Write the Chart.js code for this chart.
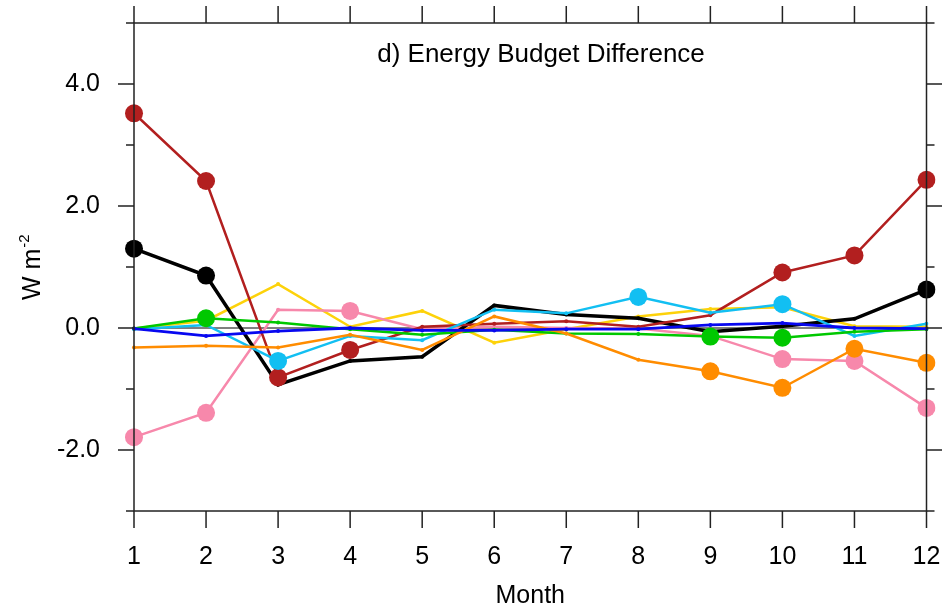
<!DOCTYPE html>
<html>
<head>
<meta charset="utf-8">
<script src="https://cdn.jsdelivr.net/npm/chart.js@4"></script>
<style>
  html, body { margin: 0; padding: 0; background: #fff; }
  #wrap { width: 942px; height: 606px; }
</style>
</head>
<body>
<div id="wrap"><canvas id="chart"></canvas></div>
<script>
// Données (W m-2)
const months = ['1', '2', '3', '4', '5', '6', '7', '8', '9', '10', '11', '12'];
const yTicks = [-2, 0, 2, 4];

const redVals    = [3.52, 2.41, -0.81, -0.36, 0.02, 0.07, 0.11, 0.02, 0.21, 0.91, 1.19, 2.43];
const blackVals  = [1.30, 0.86, -0.93, -0.54, -0.47, 0.37, 0.22, 0.16, -0.06, 0.03, 0.15, 0.63];
const cyanVals   = [-0.02, 0.05, -0.54, -0.13, -0.20, 0.30, 0.24, 0.51, 0.25, 0.39, -0.13, 0.07];
const yellowVals = [-0.01, 0.12, 0.72, 0.02, 0.28, -0.24, -0.02, 0.19, 0.31, 0.34, 0.03, 0.02];
const greenVals  = [-0.01, 0.16, 0.09, -0.02, -0.11, -0.03, -0.09, -0.10, -0.14, -0.16, -0.06, -0.02];
const blueVals   = [-0.01, -0.13, -0.05, 0.00, -0.04, -0.04, -0.02, -0.02, 0.05, 0.08, 0.00, -0.01];
const orangeVals = [-0.32, -0.29, -0.32, -0.11, -0.36, 0.19, -0.09, -0.52, -0.71, -0.98, -0.34, -0.57];
const pinkVals   = [-1.79, -1.39, 0.30, 0.28, -0.02, 0.02, 0.00, -0.01, -0.13, -0.51, -0.54, -1.31];

// Mois significatifs (gros points)
const redSig    = [1, 2, 3, 4, 10, 11, 12];
const blackSig  = [1, 2, 12];
const cyanSig   = [3, 8, 10];
const yellowSig = [];
const greenSig  = [2, 9, 10];
const blueSig   = [];
const orangeSig = [9, 10, 11, 12];
const pinkSig   = [1, 2, 4, 10, 11, 12];

const FONT = '"Liberation Sans", Arial, Helvetica, sans-serif';

function series(vals, sig, color, width) {
  return {
    data: vals,
    borderColor: color,
    backgroundColor: color,
    borderWidth: width,
    pointRadius: vals.map((v, i) => sig.includes(i + 1) ? 9 : 2),
    pointBorderWidth: 0,
    pointHoverRadius: 0,
    tension: 0
  };
}

// Cadre, graduations, titre
const frame = {
  id: 'frame',
  beforeDatasetsDraw(chart) {
    const {ctx, chartArea: a, scales: {y}} = chart;
    const y0 = y.getPixelForValue(0);
    ctx.save();
    ctx.strokeStyle = '#000';
    ctx.lineWidth = 1;
    ctx.beginPath();
    ctx.moveTo(a.left, y0);
    ctx.lineTo(a.right, y0);
    ctx.stroke();
    ctx.restore();
  },
  afterDraw(chart) {
    const {ctx, chartArea: a, scales: {x, y}} = chart;
    ctx.save();
    ctx.strokeStyle = '#222';
    ctx.lineWidth = 1.5;
    ctx.strokeRect(a.left, a.top, a.right - a.left, a.bottom - a.top);
    ctx.beginPath();
    months.forEach((m, i) => {
      const px = x.getPixelForValue(i);
      ctx.moveTo(px, a.bottom); ctx.lineTo(px, a.bottom + 17);
      ctx.moveTo(px, a.top); ctx.lineTo(px, a.top - 17);
    });
    for (let v = y.min; v <= y.max; v++) {
      const py = y.getPixelForValue(v);
      const len = yTicks.includes(v) ? 16 : 8;
      ctx.moveTo(a.left - len, py); ctx.lineTo(a.left, py);
      ctx.moveTo(a.right, py); ctx.lineTo(a.right + len, py);
    }
    ctx.stroke();

    // titre du panneau
    ctx.fillStyle = '#000';
    ctx.font = '26px ' + FONT;
    ctx.textAlign = 'center';
    ctx.textBaseline = 'middle';
    ctx.fillText('d) Energy Budget Difference', 541, 55);

    // titre de l'axe y : W m-2
    ctx.translate(40, 300);
    ctx.rotate(-Math.PI / 2);
    ctx.textAlign = 'left';
    ctx.textBaseline = 'alphabetic';
    ctx.font = '25px ' + FONT;
    ctx.fillText('W m', 0, 0);
    const w = ctx.measureText('W m').width;
    ctx.font = '15px ' + FONT;
    ctx.fillText('-2', w + 1, -11);
    ctx.restore();
  }
};

new Chart(document.getElementById('chart'), {
  type: 'line',
  data: {
    labels: months,
    datasets: [
      series(blueVals, blueSig, '#0808f0', 2.8),
      series(orangeVals, orangeSig, '#ff8c00', 2.5),
      series(greenVals, greenSig, '#00c800', 2.5),
      series(cyanVals, cyanSig, '#12bff2', 2.5),
      series(redVals, redSig, '#b21f1f', 2.5),
      series(blackVals, blackSig, '#000000', 3.5),
      series(pinkVals, pinkSig, '#f788ab', 2.5),
      series(yellowVals, yellowSig, '#fdd20a', 2.5)
    ]
  },
  options: {
    responsive: true,
    maintainAspectRatio: false,
    animation: false,
    layout: { padding: { top: 23, right: 15.5, left: 0, bottom: 0 } },
    plugins: {
      legend: { display: false },
      tooltip: { enabled: false },
      title: { display: false }
    },
    scales: {
      x: {
        type: 'category',
        offset: false,
        grid: { display: false, drawTicks: false },
        border: { display: false },
        ticks: {
          color: '#000',
          font: { family: FONT, size: 25 },
          padding: 31,
          maxRotation: 0,
          autoSkip: false
        },
        title: {
          display: true,
          text: 'Month',
          color: '#000',
          font: { family: FONT, size: 25 },
          padding: { top: 0, bottom: -5 }
        },
        afterFit(s) {
          s.height = 95;
          s.paddingLeft = 0; s.paddingRight = 0;
          s.paddingTop = 0; s.paddingBottom = 0;
        }
      },
      y: {
        min: -3,
        max: 5,
        grid: { display: false, drawTicks: false },
        border: { display: false },
        ticks: {
          stepSize: 1,
          color: '#000',
          font: { family: FONT, size: 25 },
          padding: 34,
          callback: v => yTicks.includes(v) ? v.toFixed(1) : ''
        },
        afterFit(s) {
          s.width = 134;
          s.paddingLeft = 0; s.paddingRight = 0;
          s.paddingTop = 0; s.paddingBottom = 0;
        }
      }
    }
  },
  plugins: [frame]
});
</script>
</body>
</html>
